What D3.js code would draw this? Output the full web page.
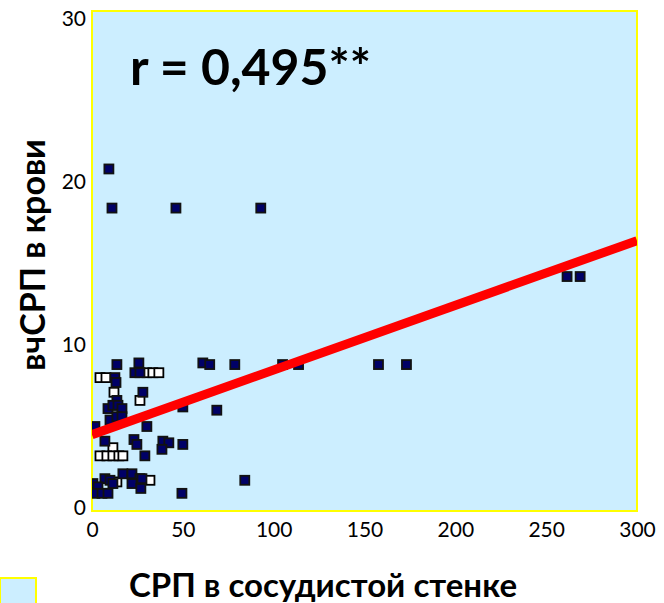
<!DOCTYPE html>
<html>
<head>
<meta charset="utf-8">
<script src="https://cdn.jsdelivr.net/npm/d3@7"></script>
<style>
  html, body { margin: 0; padding: 0; background: #fff; }
  svg { display: block; }
  text { font-family: Lato, "Open Sans", sans-serif; fill: #000; }
</style>
</head>
<body>
<svg id="chart" width="664" height="603"></svg>
<script>
// CRP in vessel wall (x) vs. hsCRP in blood (y)
const solidX = [9.3, 11.0, 46.2, 92.9, 261.5, 268.7, 61.0, 64.8, 78.6, 104.9, 113.7, 157.7, 173.1,
  68.7, 50.0, 50.0, 84.1, 49.5, 13.7, 25.8, 23.6, 26.4, 12.6, 13.2, 28.0, 13.7, 8.8, 11.5, 14.3,
  16.5, 9.9, 13.7, 16.5, 30.2, 1.6, 7.1, 23.1, 24.7, 39.0, 42.3, 38.5, 29.1, 17.0, 22.0, 26.4,
  22.0, 26.9, 27.5, 7.1, 9.9, 11.5, 0.5, 3.3, 1.6, 5.5, 8.8];
const solidY = [20.8, 18.4, 18.4, 18.4, 14.2, 14.2, 8.9, 8.8, 8.8, 8.8, 8.8, 8.8, 8.8,
  6.0, 6.2, 3.9, 1.7, 0.9, 8.8, 8.9, 8.3, 8.3, 8.0, 7.7, 7.1, 6.6, 6.1, 6.3, 6.3,
  6.1, 5.4, 5.6, 5.6, 5.0, 5.0, 4.1, 4.2, 3.9, 4.1, 4.0, 3.6, 3.2, 2.1, 2.1, 1.8,
  1.5, 1.2, 1.8, 1.8, 1.7, 1.5, 1.5, 1.3, 0.9, 0.9, 0.9];
const openX = [30.2, 33.5, 36.8, 4.4, 7.7, 12.1, 26.4, 11.5, 4.4, 8.2, 11.5, 14.8, 17.0, 31.9, 13.7];
const openY = [8.3, 8.3, 8.3, 8.0, 8.0, 7.1, 6.6, 3.7, 3.2, 3.2, 3.2, 3.2, 3.2, 1.7, 1.6];

// Linear trend line: value at x = 0 and at x = 300
const trendX = [0, 300];
const trendY = [4.5, 16.4];

const xTicks = [0, 50, 100, 150, 200, 250, 300];
const yTicks = [0, 10, 20, 30];
const rLabel = "r = 0,495**";
const xTitle = "СРП в сосудистой стенке";
const yTitle = "вчСРП в крови";

const svg = d3.select("#chart");
const plot = { left: 92, right: 637, top: 11, bottom: 511 };

const x = d3.scaleLinear().domain([0, 300]).range([plot.left, plot.right]);
const y = d3.scaleLinear().domain([0, 30]).range([508, 19]);

// plot area
svg.append("rect")
  .attr("x", plot.left).attr("y", plot.top)
  .attr("width", plot.right - plot.left).attr("height", plot.bottom - plot.top)
  .attr("fill", "#cceeff").attr("stroke", "#ffff00").attr("stroke-width", 2);

// axes (labels only)
const xAxis = svg.append("g")
  .attr("transform", `translate(0,${plot.bottom})`)
  .call(d3.axisBottom(x).tickValues(xTicks).tickSize(0).tickPadding(11));
xAxis.select(".domain").remove();
xAxis.selectAll("text").style("font-size", "21px").style("font-family", "Lato, sans-serif");

const yAxis = svg.append("g")
  .attr("transform", `translate(${plot.left},0)`)
  .call(d3.axisLeft(y).tickValues(yTicks).tickSize(0).tickPadding(6));
yAxis.select(".domain").remove();
yAxis.selectAll("text").style("font-size", "21px").style("font-family", "Lato, sans-serif");

svg.append("clipPath").attr("id", "clip").append("rect")
  .attr("x", plot.left).attr("y", plot.top)
  .attr("width", plot.right - plot.left).attr("height", plot.bottom - plot.top);

const g = svg.append("g").attr("clip-path", "url(#clip)");

const ms = 9;
// hollow markers
g.selectAll("rect.open").data(openX.map((v, i) => [v, openY[i]])).join("rect")
  .attr("class", "open")
  .attr("x", d => x(d[0]) - ms / 2).attr("y", d => y(d[1]) - ms / 2)
  .attr("width", ms).attr("height", ms)
  .attr("fill", "#ffffff").attr("stroke", "#000").attr("stroke-width", 1.8);

// filled markers
g.selectAll("rect.solid").data(solidX.map((v, i) => [v, solidY[i]])).join("rect")
  .attr("class", "solid")
  .attr("x", d => x(d[0]) - ms / 2).attr("y", d => y(d[1]) - ms / 2)
  .attr("width", ms).attr("height", ms)
  .attr("fill", "#000066").attr("stroke", "#111").attr("stroke-width", 1.8);

// trend line
g.append("line")
  .attr("x1", x(trendX[0])).attr("y1", y(trendY[0]))
  .attr("x2", x(trendX[1])).attr("y2", y(trendY[1]))
  .attr("stroke", "#ff0000").attr("stroke-width", 9);

// correlation label
svg.append("text")
  .attr("x", 130).attr("y", 85)
  .style("font-size", "50px").style("font-weight", "bold")
  .text(rLabel);

// axis titles
svg.append("text")
  .attr("x", 323).attr("y", 597)
  .attr("text-anchor", "middle")
  .style("font-size", "33px").style("font-weight", "bold")
  .text(xTitle);

svg.append("text")
  .attr("transform", "translate(45,255) rotate(-90)")
  .attr("text-anchor", "middle")
  .style("font-size", "34px").style("font-weight", "bold")
  .text(yTitle);

// legend swatch
svg.append("rect")
  .attr("x", 0).attr("y", 578).attr("width", 36).attr("height", 30)
  .attr("fill", "#cceeff").attr("stroke", "#ffff00").attr("stroke-width", 2);
</script>
</body>
</html>
